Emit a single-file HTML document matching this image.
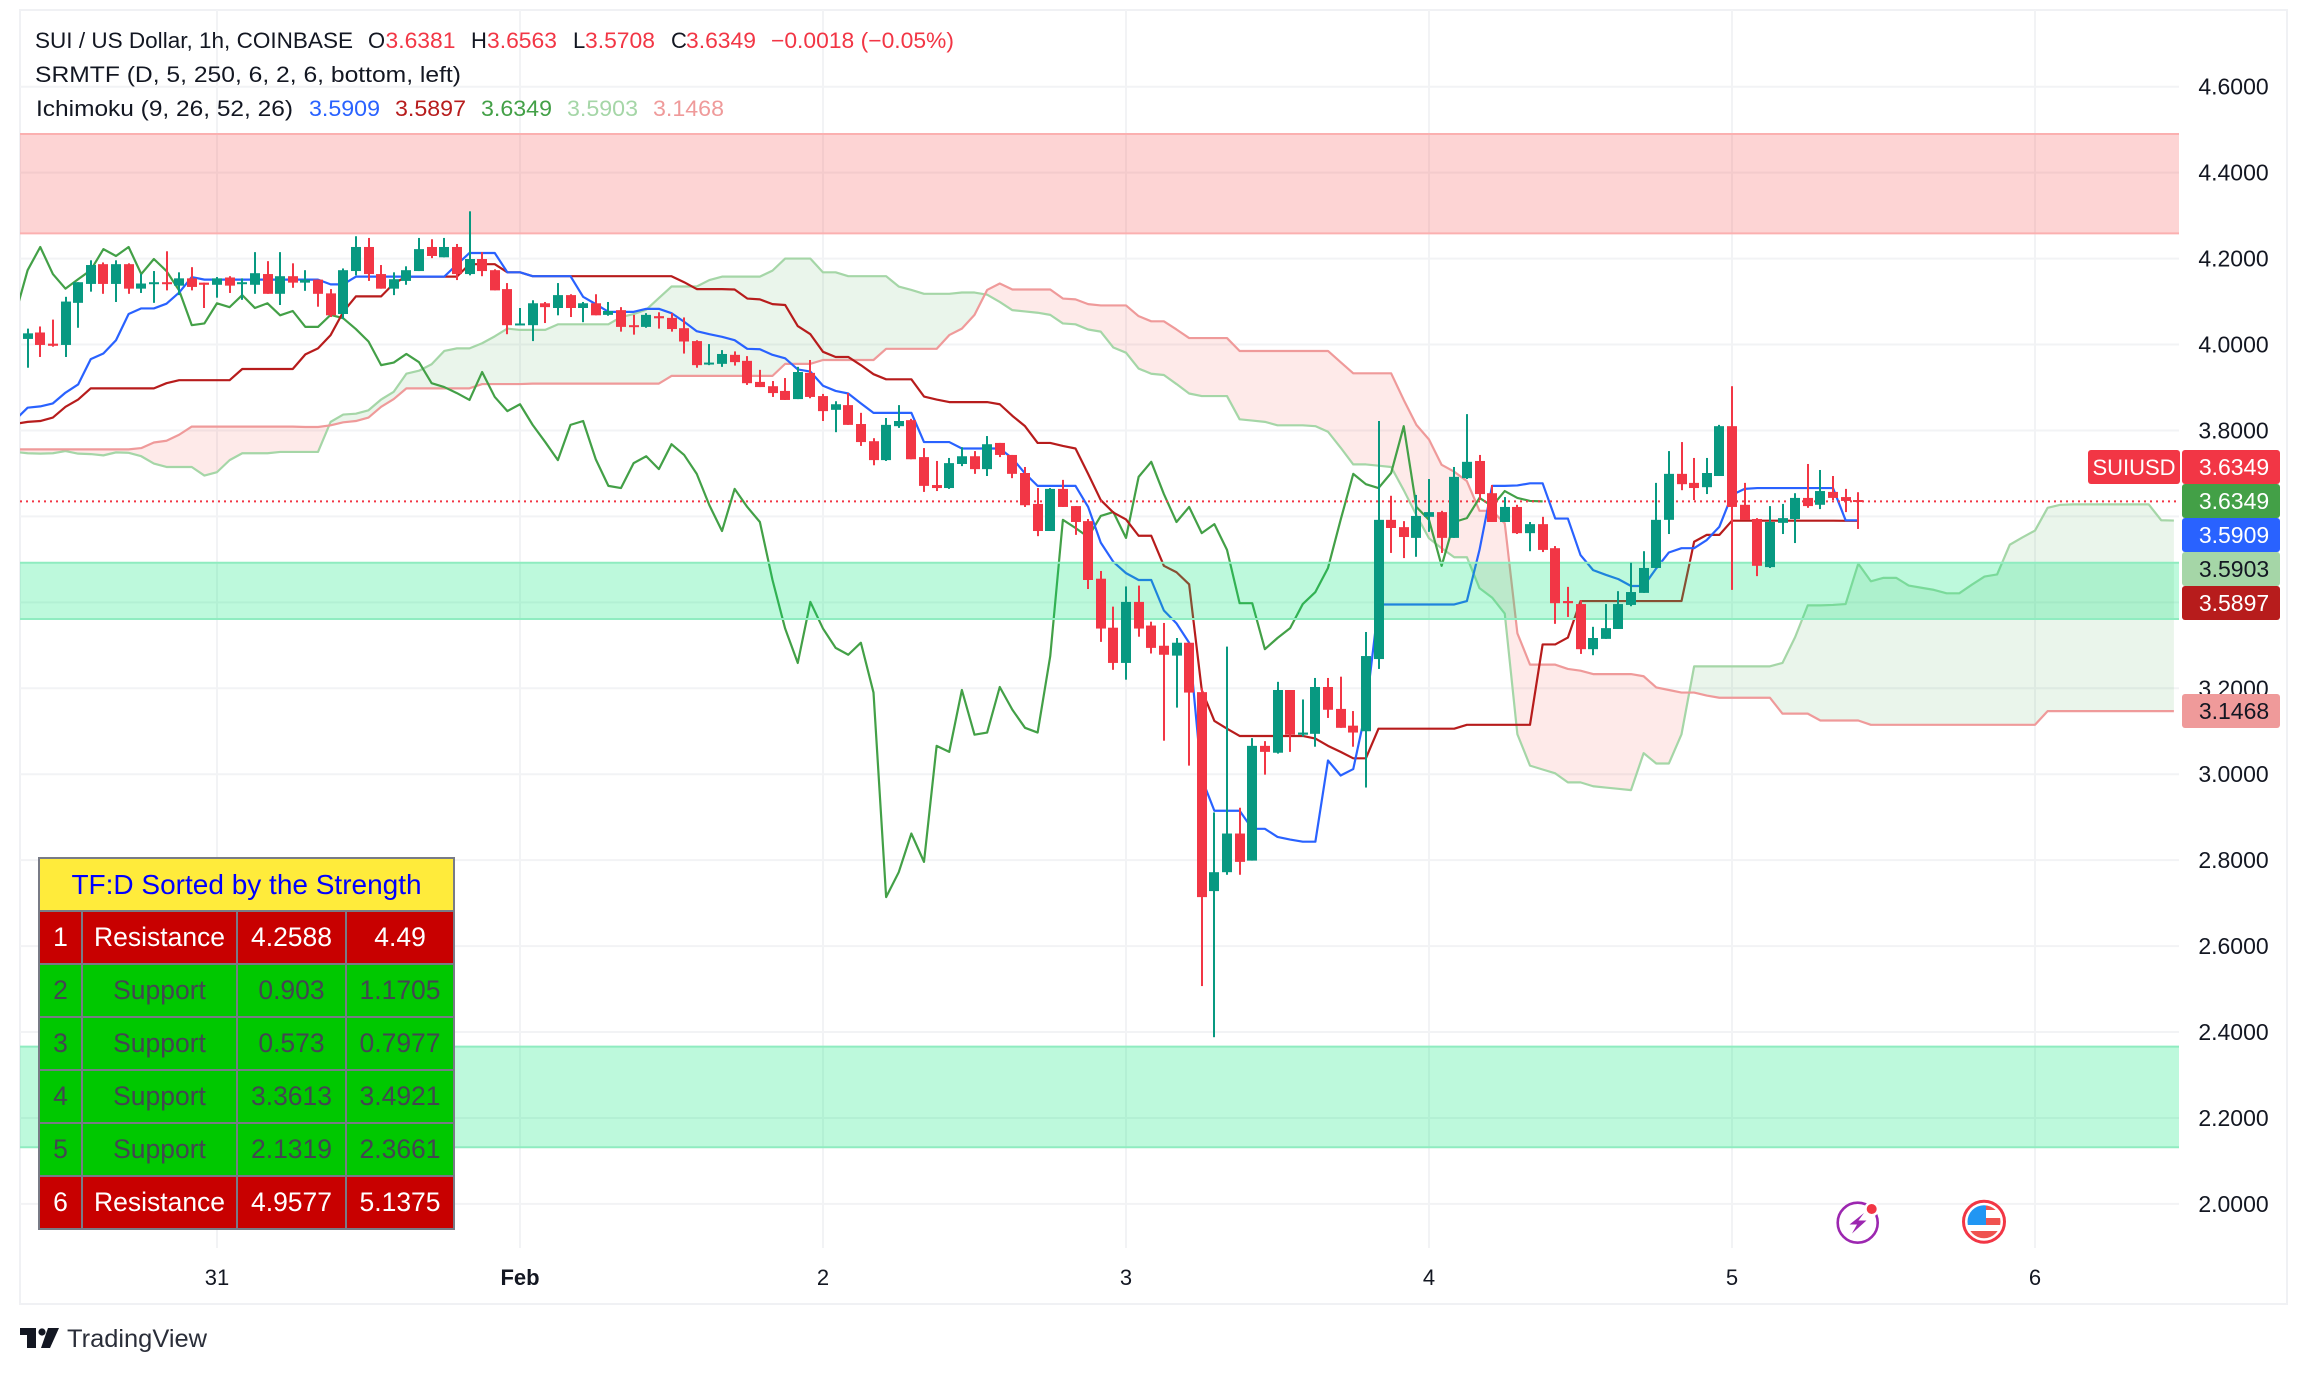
<!DOCTYPE html>
<html lang="en">
<head>
<meta charset="utf-8">
<title>SUI / US Dollar 1h chart</title>
<style>
  html,body{margin:0;padding:0;background:#fff;}
  body{width:2308px;height:1374px;position:relative;overflow:hidden;font-family:"Liberation Sans",sans-serif;}
  #chart{position:absolute;left:0;top:0;}
  #levels{position:absolute;left:38px;top:857px;width:415px;height:373px;border-collapse:collapse;table-layout:fixed;font-size:26.5px;text-align:center;font-family:"Liberation Sans",sans-serif;}
  #levels td{border:2px solid #787b86;padding:0;}
  #levels .hd{background:#ffeb3b;color:#0000ff;font-size:28px;}
  #levels .res{background:#c80000;color:#fff;}
  #levels .sup{background:#00c800;color:#434651;}
</style>
</head>
<body>
<svg id="chart" width="2308" height="1374" viewBox="0 0 2308 1374" font-family="'Liberation Sans',sans-serif">
  <defs><clipPath id="plot"><rect x="20" y="10" width="2159" height="1238"/></clipPath>
  <clipPath id="flagclip"><circle cx="1984" cy="1221.7" r="16.5"/></clipPath></defs>
  <rect x="20" y="10" width="2267" height="1294" fill="#fff" stroke="#f0f1f4" stroke-width="2"/>
  <g id="grid"></g>
  <g id="ichimoku" clip-path="url(#plot)"></g>
  <g id="zones"></g>
  <g id="lastline"></g>
  <g id="candles" clip-path="url(#plot)"></g>
  <g id="yaxis"></g>
  <g id="xaxis"></g>

  <g font-size="22" fill="#131722">
    <text x="35" y="48" textLength="318" lengthAdjust="spacingAndGlyphs">SUI / US Dollar, 1h, COINBASE</text>
    <text x="368" y="48">O</text>
    <text x="385.5" y="48" fill="#f23645" textLength="70" lengthAdjust="spacingAndGlyphs">3.6381</text>
    <text x="471" y="48">H</text>
    <text x="487" y="48" fill="#f23645" textLength="70" lengthAdjust="spacingAndGlyphs">3.6563</text>
    <text x="573" y="48">L</text>
    <text x="585" y="48" fill="#f23645" textLength="70" lengthAdjust="spacingAndGlyphs">3.5708</text>
    <text x="671" y="48">C</text>
    <text x="686" y="48" fill="#f23645" textLength="70" lengthAdjust="spacingAndGlyphs">3.6349</text>
    <text x="771" y="48" fill="#f23645" textLength="183" lengthAdjust="spacingAndGlyphs">−0.0018 (−0.05%)</text>
    <text x="35" y="82" textLength="426" lengthAdjust="spacingAndGlyphs">SRMTF (D, 5, 250, 6, 2, 6, bottom, left)</text>
    <text x="36" y="116" textLength="257" lengthAdjust="spacingAndGlyphs">Ichimoku (9, 26, 52, 26)</text>
    <text x="309" y="116" fill="#2962ff" textLength="71" lengthAdjust="spacingAndGlyphs">3.5909</text>
    <text x="395" y="116" fill="#b71c1c" textLength="71" lengthAdjust="spacingAndGlyphs">3.5897</text>
    <text x="481" y="116" fill="#43a047" textLength="71" lengthAdjust="spacingAndGlyphs">3.6349</text>
    <text x="567" y="116" fill="#a5d6a7" textLength="71" lengthAdjust="spacingAndGlyphs">3.5903</text>
    <text x="653" y="116" fill="#ef9a9a" textLength="71" lengthAdjust="spacingAndGlyphs">3.1468</text>
  </g>

  <g font-size="23" text-anchor="middle">
    <rect x="2088" y="450" width="92" height="34" rx="3" fill="#f23645"/>
    <text x="2134" y="475" fill="#fff" font-size="22">SUIUSD</text>
    <rect x="2182" y="450" width="98" height="34" rx="3" fill="#f23645"/>
    <text x="2234" y="475" fill="#fff">3.6349</text>
    <rect x="2182" y="484" width="98" height="34" rx="3" fill="#43a047"/>
    <text x="2234" y="509" fill="#fff">3.6349</text>
    <rect x="2182" y="518" width="98" height="34" rx="3" fill="#2962ff"/>
    <text x="2234" y="543" fill="#fff">3.5909</text>
    <rect x="2182" y="552" width="98" height="34" rx="3" fill="#a5d6a7"/>
    <text x="2234" y="577" fill="#131722">3.5903</text>
    <rect x="2182" y="586" width="98" height="34" rx="3" fill="#b71c1c"/>
    <text x="2234" y="611" fill="#fff">3.5897</text>
    <rect x="2182" y="694" width="98" height="34" rx="3" fill="#ef9a9a"/>
    <text x="2234" y="719" fill="#131722">3.1468</text>
  </g>

  <g>
    <circle cx="1857.7" cy="1222.7" r="20" fill="#fff" stroke="#9c27b0" stroke-width="2.6"/>
    <polygon points="1864,1213 1849.5,1224.5 1857,1224.5 1852,1233.5 1866.5,1220.5 1858.5,1220.5" fill="#9c27b0"/>
    <circle cx="1871.7" cy="1209" r="7.5" fill="#fff"/>
    <circle cx="1871.7" cy="1209" r="5" fill="#f23645"/>
  </g>
  <g>
    <circle cx="1984" cy="1221.7" r="20.5" fill="#fff" stroke="#f23645" stroke-width="3"/>
    <g clip-path="url(#flagclip)">
      <rect x="1966" y="1205" width="36" height="34" fill="#fff"/>
      <rect x="1986" y="1205" width="18" height="5" fill="#ef5350"/>
      <rect x="1986" y="1218" width="18" height="7" fill="#ef5350"/>
      <rect x="1966" y="1231" width="36" height="9" fill="#ef5350"/>
      <rect x="1966" y="1205" width="20" height="20" fill="#2196f3"/>
    </g>
  </g>

  <g>
    <polygon points="20,1328 36,1328 36,1348 27,1348 27,1335 20,1335" fill="#131722"/>
    <circle cx="42" cy="1332" r="3.6" fill="#131722"/>
    <polygon points="48,1328 59,1328 50,1348 41,1348" fill="#131722"/>
    <text x="67" y="1347" font-size="25" fill="#2a2e39" textLength="140" lengthAdjust="spacingAndGlyphs">TradingView</text>
  </g>
</svg>

<table id="levels">
  <colgroup><col style="width:43px"><col style="width:155px"><col style="width:109px"><col style="width:108px"></colgroup>
  <tr style="height:53px"><td class="hd" colspan="4">TF:D Sorted by the Strength</td></tr>
  <tr class="res"><td class="res">1</td><td class="res">Resistance</td><td class="res">4.2588</td><td class="res">4.49</td></tr>
  <tr><td class="sup">2</td><td class="sup">Support</td><td class="sup">0.903</td><td class="sup">1.1705</td></tr>
  <tr><td class="sup">3</td><td class="sup">Support</td><td class="sup">0.573</td><td class="sup">0.7977</td></tr>
  <tr><td class="sup">4</td><td class="sup">Support</td><td class="sup">3.3613</td><td class="sup">3.4921</td></tr>
  <tr><td class="sup">5</td><td class="sup">Support</td><td class="sup">2.1319</td><td class="sup">2.3661</td></tr>
  <tr><td class="res">6</td><td class="res">Resistance</td><td class="res">4.9577</td><td class="res">5.1375</td></tr>
</table>

<script>
// ---- data ----
const firstCandleBar = -15;   // hourly bars relative to the "31" day boundary
const opens = [
4.013,4.028,4.002,3.999,4.097,4.141,4.187,4.141,4.187,4.130,
4.141,4.145,4.137,4.154,4.144,4.139,4.156,4.142,4.139,4.164,
4.118,4.159,4.144,4.151,4.119,4.071,4.171,4.227,4.164,4.130,
4.148,4.171,4.227,4.203,4.227,4.164,4.199,4.173,4.129,4.045,
4.045,4.096,4.085,4.115,4.085,4.096,4.069,4.080,4.045,4.041,
4.066,4.062,4.038,4.008,3.955,3.955,3.976,3.962,3.913,3.903,
3.892,3.873,3.934,3.880,3.848,3.859,3.815,3.775,3.731,3.810,
3.824,3.738,3.673,3.666,3.722,3.740,3.710,3.771,3.743,3.701,
3.629,3.566,3.664,3.624,3.589,3.455,3.341,3.259,3.401,3.346,
3.299,3.276,3.306,3.191,2.728,2.772,2.862,2.799,3.066,3.050,
3.196,3.092,3.094,3.203,3.152,3.113,3.100,3.268,3.592,3.575,
3.550,3.599,3.610,3.550,3.689,3.729,3.654,3.587,3.622,3.561,
3.582,3.526,3.403,3.396,3.291,3.315,3.338,3.394,3.422,3.480,
3.592,3.699,3.678,3.668,3.694,3.810,3.627,3.594,3.482,3.585,
3.594,3.643,3.627,3.657,3.645,3.6381];
const highs = [
4.037,4.042,4.058,4.111,4.145,4.196,4.191,4.196,4.189,4.164,
4.171,4.217,4.168,4.180,4.144,4.157,4.159,4.154,4.215,4.194,
4.215,4.189,4.173,4.151,4.129,4.177,4.252,4.248,4.185,4.168,
4.182,4.248,4.245,4.248,4.234,4.310,4.215,4.175,4.143,4.085,
4.103,4.099,4.143,4.117,4.099,4.117,4.099,4.087,4.069,4.073,
4.075,4.073,4.063,4.010,4.001,3.987,3.984,3.973,3.941,3.915,
3.922,3.948,3.964,3.885,3.868,3.887,3.841,3.782,3.829,3.859,
3.827,3.759,3.729,3.736,3.761,3.752,3.787,3.771,3.743,3.715,
3.666,3.666,3.685,3.624,3.594,3.473,3.390,3.437,3.439,3.355,
3.352,3.317,3.306,3.200,2.911,3.297,2.922,3.084,3.077,3.215,
3.196,3.174,3.224,3.224,3.227,3.147,3.331,3.822,3.648,3.589,
3.650,3.687,3.613,3.715,3.838,3.743,3.673,3.645,3.627,3.587,
3.599,3.531,3.436,3.405,3.343,3.396,3.426,3.492,3.519,3.678,
3.752,3.773,3.736,3.736,3.813,3.903,3.678,3.596,3.624,3.629,
3.654,3.722,3.708,3.694,3.664,3.6563];
const lows = [
3.946,3.971,3.995,3.971,4.039,4.123,4.118,4.099,4.118,4.120,
4.097,4.126,4.115,4.126,4.085,4.109,4.120,4.104,4.118,4.118,
4.092,4.132,4.125,4.088,4.064,4.060,4.161,4.148,4.130,4.115,
4.139,4.171,4.201,4.203,4.150,4.161,4.159,4.126,4.024,4.045,
4.008,4.050,4.068,4.064,4.052,4.068,4.067,4.030,4.023,4.039,
4.037,4.030,3.979,3.946,3.952,3.948,3.951,3.906,3.901,3.878,
3.871,3.873,3.875,3.822,3.796,3.813,3.764,3.719,3.729,3.806,
3.733,3.657,3.659,3.664,3.717,3.699,3.694,3.738,3.689,3.622,
3.554,3.566,3.622,3.557,3.431,3.308,3.243,3.220,3.320,3.281,
3.078,3.155,3.020,2.507,2.388,2.766,2.766,2.799,2.999,3.048,
3.052,3.088,3.064,3.131,3.108,3.064,2.969,3.245,3.515,3.503,
3.506,3.564,3.515,3.550,3.687,3.638,3.587,3.587,3.559,3.519,
3.517,3.350,3.366,3.280,3.277,3.315,3.338,3.391,3.422,3.480,
3.559,3.661,3.638,3.652,3.694,3.429,3.592,3.461,3.480,3.559,
3.538,3.620,3.617,3.638,3.610,3.5708];
const closes = [
4.026,3.999,3.997,4.100,4.145,4.185,4.141,4.187,4.130,4.142,
4.145,4.141,4.154,4.134,4.139,4.154,4.137,4.145,4.166,4.118,
4.159,4.144,4.151,4.118,4.068,4.173,4.227,4.164,4.130,4.152,
4.173,4.222,4.206,4.227,4.164,4.199,4.171,4.126,4.045,4.049,
4.096,4.087,4.115,4.085,4.096,4.068,4.078,4.041,4.041,4.069,
4.061,4.036,4.007,3.952,3.958,3.978,3.959,3.910,3.901,3.887,
3.871,3.936,3.878,3.845,3.861,3.813,3.773,3.731,3.813,3.822,
3.733,3.671,3.666,3.724,3.740,3.710,3.768,3.743,3.699,3.626,
3.566,3.664,3.622,3.587,3.452,3.339,3.259,3.401,3.339,3.294,
3.278,3.306,3.190,2.714,2.772,2.862,2.796,3.066,3.052,3.196,
3.092,3.097,3.203,3.150,3.108,3.097,3.275,3.592,3.573,3.552,
3.601,3.610,3.550,3.692,3.727,3.652,3.587,3.622,3.561,3.582,
3.522,3.398,3.398,3.291,3.317,3.340,3.396,3.424,3.480,3.592,
3.699,3.675,3.666,3.701,3.810,3.622,3.592,3.485,3.587,3.596,
3.643,3.624,3.659,3.643,3.636,3.6349];

const firstLineBar = -16;
const conversionLine = [
3.824,3.853,3.856,3.863,3.888,3.907,3.966,3.979,4.010,4.071,
4.084,4.084,4.095,4.121,4.157,4.151,4.151,4.151,4.151,4.151,
4.151,4.151,4.151,4.151,4.151,4.140,4.140,4.158,4.158,4.158,
4.158,4.158,4.158,4.158,4.158,4.186,4.213,4.213,4.213,4.168,
4.168,4.159,4.159,4.159,4.159,4.111,4.094,4.076,4.076,4.076,
4.083,4.083,4.073,4.053,4.031,4.024,4.018,4.010,3.990,3.989,
3.976,3.968,3.942,3.937,3.904,3.892,3.886,3.863,3.841,3.841,
3.841,3.841,3.773,3.773,3.773,3.758,3.758,3.758,3.758,3.735,
3.700,3.671,3.671,3.671,3.671,3.622,3.539,3.494,3.468,3.452,
3.452,3.381,3.351,3.306,2.990,2.915,2.915,2.915,2.873,2.873,
2.854,2.848,2.843,2.843,3.032,2.997,3.012,3.149,3.395,3.395,
3.395,3.395,3.395,3.395,3.395,3.403,3.522,3.671,3.671,3.672,
3.677,3.677,3.595,3.595,3.510,3.475,3.464,3.454,3.438,3.438,
3.479,3.516,3.526,3.526,3.545,3.576,3.650,3.664,3.666,3.666,
3.666,3.666,3.666,3.666,3.666,3.5909,3.5909];
const baseLine = [
3.815,3.820,3.822,3.830,3.855,3.872,3.898,3.898,3.898,3.898,
3.898,3.898,3.910,3.917,3.917,3.917,3.917,3.917,3.943,3.943,
3.943,3.943,3.943,3.977,3.991,4.022,4.076,4.112,4.112,4.112,
4.142,4.158,4.158,4.158,4.158,4.158,4.187,4.187,4.187,4.168,
4.168,4.159,4.159,4.159,4.159,4.159,4.159,4.159,4.159,4.159,
4.159,4.159,4.159,4.145,4.129,4.129,4.129,4.128,4.107,4.105,
4.094,4.092,4.043,4.024,3.983,3.971,3.971,3.952,3.931,3.919,
3.919,3.919,3.879,3.872,3.866,3.866,3.866,3.866,3.861,3.834,
3.810,3.771,3.771,3.764,3.758,3.699,3.638,3.609,3.593,3.555,
3.555,3.485,3.470,3.442,3.196,3.124,3.106,3.089,3.089,3.089,
3.089,3.089,3.089,3.083,3.066,3.052,3.037,3.037,3.106,3.106,
3.106,3.106,3.106,3.106,3.106,3.115,3.115,3.115,3.115,3.115,
3.115,3.302,3.302,3.318,3.403,3.403,3.403,3.403,3.403,3.403,
3.403,3.403,3.403,3.541,3.557,3.557,3.590,3.590,3.590,3.590,
3.590,3.590,3.590,3.590,3.590,3.5897,3.5897];
const laggingSpan = [
4.068,4.173,4.227,4.164,4.130,4.152,
4.173,4.222,4.206,4.227,4.164,4.199,4.171,4.126,4.045,4.049,
4.096,4.087,4.115,4.085,4.096,4.068,4.078,4.041,4.041,4.069,
4.061,4.036,4.007,3.952,3.958,3.978,3.959,3.910,3.901,3.887,
3.871,3.936,3.878,3.845,3.861,3.813,3.773,3.731,3.813,3.822,
3.733,3.671,3.666,3.724,3.740,3.710,3.768,3.743,3.699,3.626,
3.566,3.664,3.622,3.587,3.452,3.339,3.259,3.401,3.339,3.294,
3.278,3.306,3.190,2.714,2.772,2.862,2.796,3.066,3.052,3.196,
3.092,3.097,3.203,3.150,3.108,3.097,3.275,3.592,3.573,3.552,
3.601,3.610,3.550,3.692,3.727,3.652,3.587,3.622,3.561,3.582,
3.522,3.398,3.398,3.291,3.317,3.340,3.396,3.424,3.480,3.592,
3.699,3.675,3.666,3.701,3.810,3.622,3.592,3.485,3.587,3.596,
3.643,3.624,3.659,3.643,3.636,3.6349];
const leadingSpanA = [
3.750,3.747,3.746,3.747,3.752,3.746,3.745,3.742,3.749,3.748,
3.740,3.723,3.715,3.715,3.715,3.695,3.703,3.731,3.747,3.747,
3.747,3.750,3.750,3.750,3.750,3.820,3.837,3.839,3.847,3.872,
3.890,3.932,3.939,3.954,3.985,3.991,3.991,4.003,4.019,4.037,
4.034,4.034,4.034,4.047,4.047,4.047,4.047,4.047,4.064,4.071,
4.081,4.108,4.135,4.135,4.135,4.150,4.158,4.158,4.158,4.158,
4.172,4.200,4.200,4.200,4.168,4.168,4.159,4.159,4.159,4.159,
4.135,4.127,4.118,4.118,4.118,4.121,4.121,4.116,4.099,4.080,
4.077,4.074,4.069,4.049,4.047,4.035,4.030,3.993,3.981,3.944,
3.932,3.929,3.908,3.886,3.880,3.880,3.880,3.826,3.823,3.820,
3.812,3.812,3.812,3.810,3.797,3.760,3.721,3.721,3.718,3.715,
3.661,3.603,3.549,3.526,3.505,3.505,3.433,3.411,3.374,3.093,
3.020,3.011,3.002,2.981,2.981,2.972,2.969,2.966,2.963,3.049,
3.025,3.025,3.093,3.251,3.251,3.251,3.251,3.251,3.251,3.251,
3.259,3.319,3.393,3.393,3.394,3.396,3.490,3.449,3.457,3.457,
3.439,3.434,3.429,3.421,3.421,3.441,3.460,3.465,3.534,3.551,
3.567,3.620,3.627,3.628,3.628,3.628,3.628,3.628,3.628,3.628,
3.591,3.5903];
const leadingSpanB = [
3.756,3.756,3.756,3.756,3.756,3.756,3.756,3.756,3.756,3.756,
3.759,3.772,3.776,3.790,3.809,3.809,3.809,3.809,3.809,3.809,
3.809,3.809,3.809,3.808,3.808,3.812,3.819,3.822,3.830,3.855,
3.873,3.898,3.898,3.898,3.898,3.898,3.898,3.908,3.908,3.908,
3.908,3.909,3.909,3.909,3.909,3.909,3.909,3.909,3.909,3.909,
3.909,3.909,3.927,3.927,3.927,3.927,3.927,3.927,3.927,3.927,
3.927,3.955,3.955,3.955,3.964,3.964,3.964,3.964,3.964,3.990,
3.990,3.990,3.990,3.990,4.022,4.037,4.069,4.127,4.142,4.128,
4.128,4.128,4.128,4.107,4.105,4.094,4.091,4.091,4.091,4.066,
4.054,4.054,4.035,4.015,4.015,4.015,4.015,3.985,3.985,3.985,
3.985,3.985,3.985,3.985,3.985,3.959,3.933,3.933,3.933,3.933,
3.871,3.813,3.779,3.720,3.704,3.682,3.613,3.613,3.584,3.328,
3.255,3.255,3.255,3.245,3.241,3.233,3.233,3.233,3.233,3.228,
3.202,3.196,3.190,3.190,3.183,3.178,3.178,3.178,3.178,3.178,
3.141,3.141,3.141,3.125,3.125,3.125,3.125,3.115,3.115,3.115,
3.115,3.115,3.115,3.115,3.115,3.115,3.115,3.115,3.115,3.115,
3.115,3.1468,3.1468,3.1468,3.1468,3.1468,3.1468,3.1468,3.1468,3.1468,
3.1468,3.1468];

const priceTicks = [2.0,2.2,2.4,2.6,2.8,3.0,3.2,3.4,3.6,3.8,4.0,4.2,4.4,4.6];
const timeLabels = ['31','Feb','2','3','4','5','6'];
const timeLabelBars = [0,24,48,72,96,120,144];
const resistanceLows = [4.2588];
const resistanceHighs = [4.49];
const supportLows = [3.3613,2.1319];
const supportHighs = [3.4921,2.3661];

// ---- axis functions ----
function xOf(bar){ return 217 + 12.625*bar; }
function yOf(price){ return 86.7 + (4.6-price)*429.7; }

const NS = 'http://www.w3.org/2000/svg';
function mk(tag, parent, attrs){
  const el = document.createElementNS(NS, tag);
  for(const k in attrs) el.setAttribute(k, attrs[k]);
  parent.appendChild(el);
  return el;
}
const PL = 20, PR = 2179, PB = 1248, PT = 10;

// ---- grid ----
const grid = document.getElementById('grid');
priceTicks.forEach(function(p){
  const l = mk('line', grid, {x1:PL, x2:PR, y1:yOf(p), y2:yOf(p), stroke:'#f2f3f5', 'stroke-width':2});
  
  
});
timeLabelBars.forEach(function(b){
  const l = mk('line', grid, {x1:xOf(b), x2:xOf(b), y1:PT, y2:PB, stroke:'#f2f3f5', 'stroke-width':2});
  
  
});

// ---- ichimoku ----
const ich = document.getElementById('ichimoku');
function cloud(){
  let run = [], sign = 0;
  function flush(){
    if(run.length < 2){ run = []; return; }
    const top = run.map(function(r){ return r[0].toFixed(1)+','+yOf(r[1]).toFixed(1); });
    const bot = run.slice().reverse().map(function(r){ return r[0].toFixed(1)+','+yOf(r[2]).toFixed(1); });
    const poly = mk('polygon', ich, {points: top.concat(bot).join(' '),
      fill: sign > 0 ? 'rgba(67,160,71,0.11)' : 'rgba(244,67,54,0.11)'});
    
    
    run = [];
  }
  for(let i=0;i<leadingSpanA.length;i++){
    const a = leadingSpanA[i], b = leadingSpanB[i], x = xOf(firstLineBar+i);
    const s = a >= b ? 1 : -1;
    if(sign !== 0 && s !== sign){
      const pa = leadingSpanA[i-1], pb = leadingSpanB[i-1];
      const t = (pb-pa)/((a-pa)-(b-pb));
      const cx = xOf(firstLineBar+i-1+t), cp = pa + (a-pa)*t;
      run.push([cx,cp,cp]);
      flush();
      run.push([cx,cp,cp]);
    }
    sign = s;
    run.push([x,a,b]);
  }
  flush();
}
cloud();
function line(values, start, color, width, name){
  const pts = values.map(function(v,i){ return xOf(start+i).toFixed(2)+','+yOf(v).toFixed(2); }).join(' ');
  const pl = mk('polyline', ich, {points:pts, fill:'none', stroke:color, 'stroke-width':width, 'stroke-linejoin':'round'});
  
  
}
line(leadingSpanA, firstLineBar, '#a5d6a7', 2.2, 'leading-span-a');
line(leadingSpanB, firstLineBar, '#ef9a9a', 2.2, 'leading-span-b');
line(laggingSpan, firstLineBar, '#43a047', 2.2, 'lagging-span');
line(baseLine, firstLineBar, '#b71c1c', 2.2, 'base-line');
line(conversionLine, firstLineBar, '#2962ff', 2.2, 'conversion-line');

// ---- zones ----
const zones = document.getElementById('zones');
function zone(lo, hi, fill, edge, name){
  const r = mk('rect', zones, {x:PL, width:PR-PL, y:yOf(hi), height:yOf(lo)-yOf(hi), fill:fill});
  
  
  [lo,hi].forEach(function(p){
    const l = mk('line', zones, {x1:PL, x2:PR, y1:yOf(p), y2:yOf(p), stroke:edge, 'stroke-width':2});
    
    
  });
}
resistanceLows.forEach(function(lo,i){ zone(lo, resistanceHighs[i], 'rgba(247,82,82,0.25)', '#fbb0b0', 'resistance-zone'); });
supportLows.forEach(function(lo,i){ zone(lo, supportHighs[i], 'rgba(0,230,118,0.26)', '#8fecc0', 'support-zone'); });

// ---- last price line ----
const lastClose = closes[closes.length-1];
const lastLine = mk('line', document.getElementById('lastline'), {x1:PL, x2:PR, y1:yOf(lastClose), y2:yOf(lastClose), stroke:'#f23645', 'stroke-width':2, 'stroke-dasharray':'2 4'});



// ---- candles ----
const cg = document.getElementById('candles');
opens.forEach(function(o,i){
  const c = closes[i], h = highs[i], l = lows[i];
  const x = Math.round(xOf(firstCandleBar+i));
  const col = c >= o ? '#089981' : '#f23645';
  const wick = mk('rect', cg, {x:x-1, width:2, y:yOf(h), height:Math.max(1,yOf(l)-yOf(h)), fill:col});
  
  
  const top = yOf(Math.max(o,c)), bot = yOf(Math.min(o,c));
  const body = mk('rect', cg, {x:x-5, width:10, y:top, height:Math.max(2,bot-top), fill:col});
  
  
});

// ---- axes ----
const ya = document.getElementById('yaxis');
priceTicks.forEach(function(p){
  const t = mk('text', ya, {x:2233.5, y:yOf(p)+8, 'text-anchor':'middle', 'font-size':23, fill:'#131722'});
  
  
  t.textContent = p.toFixed(4);
});
const xa = document.getElementById('xaxis');
timeLabels.forEach(function(s,i){
  const t = mk('text', xa, {x:xOf(timeLabelBars[i]), y:1285, 'text-anchor':'middle', 'font-size':22, fill:'#131722', 'font-weight': s==='Feb' ? 'bold' : 'normal'});
  
  
  t.textContent = s;
});
</script>
</body>
</html>
